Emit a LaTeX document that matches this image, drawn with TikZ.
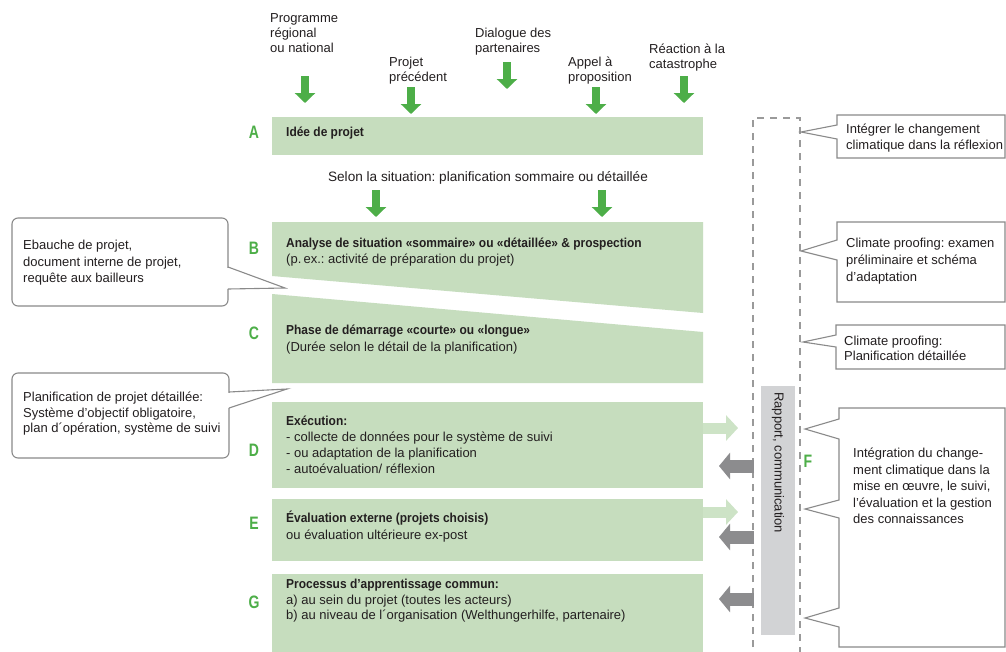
\documentclass[tikz,border=0pt]{standalone}
\usepackage{fontspec}
\setmainfont{Liberation Sans}[BoldFeatures={FakeStretch=0.92}]
\newfontfamily\lblfont{Liberation Sans}[BoldFeatures={FakeStretch=0.78}]
\usetikzlibrary{arrows.meta}
\definecolor{boxgreen}{HTML}{C6DDBE}
\definecolor{mygreen}{HTML}{4DAE48}
\definecolor{lightarr}{HTML}{CDE3C6}
\definecolor{darkarr}{HTML}{8C8C8E}
\definecolor{barfill}{HTML}{D2D3D5}
\definecolor{outl}{HTML}{8A8A8A}
\definecolor{dashcol}{HTML}{9A9A9A}
\definecolor{ink}{HTML}{231F20}
\frenchspacing
\tikzset{
  txt/.style={inner sep=0pt, anchor=base west, align=left, text=ink, font=\fontsize{13}{#1}\selectfont},
  txt/.default=16,
  lbl/.style={inner sep=0pt, anchor=center, text=mygreen, font=\lblfont\bfseries\fontsize{18}{18}\selectfont},
  phase/.style={fill=boxgreen, draw=none},
  garr/.style={draw=mygreen, line width=8pt, -{Triangle[width=20pt,length=10pt]}},
  larr/.style={draw=lightarr, line width=11pt, -{Triangle[width=25pt,length=12pt]}},
  darr/.style={draw=darkarr, line width=13pt, -{Triangle[width=26pt,length=11pt]}},
  callout/.style={draw=outl, line width=1.1pt, fill=white, line join=miter},
}
\begin{document}
\begin{tikzpicture}[x=1pt,y=-1pt]
\useasboundingbox (0,0) rectangle (1006,651);
\fill[white] (0,0) rectangle (1006,651);

% top source labels (anchor = baseline of last line)
\node[txt=15] (t1) at (270,52.5) {Programme\\régional\\ou national};
\node[txt=14.5] (t2) at (389,81) {Projet\\précédent};
\node[txt=15] (t3) at (475,52.5) {Dialogue des\\partenaires};
\node[txt=14.5] (t4) at (568,81) {Appel à\\proposition};
\node[txt=15] (t5) at (649,68.5) {Réaction à la\\catastrophe};

% top arrows
\coordinate (a1s) at (305,76);  \coordinate (a1e) at (305,103);
\coordinate (a2s) at (411,87);  \coordinate (a2e) at (411,114);
\coordinate (a3s) at (507,62);  \coordinate (a3e) at (507,89);
\coordinate (a4s) at (596,87);  \coordinate (a4e) at (596,114);
\coordinate (a5s) at (684,76);  \coordinate (a5e) at (684,103);
\foreach \i in {1,...,5} \draw[garr] (a\i s) -- (a\i e);

% phase boxes
\fill[phase] (272,117) rectangle (703,155);
\fill[phase] (272,222) -- (703,222) -- (703,313) -- (272,276) -- cycle;
\fill[phase] (272,294) -- (703,332) -- (703,383) -- (272,383) -- cycle;
\fill[phase] (272,402) rectangle (703,488);
\fill[phase] (272,499) rectangle (703,561);
\fill[phase] (272,574) rectangle (703,660);

% letters
\node[lbl] (lA) at (254,132) {A};
\node[lbl] (lB) at (254,248) {B};
\node[lbl] (lC) at (254,333) {C};
\node[lbl] (lD) at (254,450) {D};
\node[lbl] (lE) at (254,523) {E};
\node[lbl] (lG) at (254,602) {G};
\node[lbl] (lF) at (808,461) {F};

% box texts
\node[txt] (xA) at (286,136.5) {\bfseries Idée de projet};
\node[txt, anchor=base, font=\fontsize{13.6}{16}\selectfont] (sel) at (488,181.5) {Selon la situation: planification sommaire ou détaillée};
\node[txt] (xB) at (286,263.5) {\bfseries Analyse de situation «sommaire» ou «détaillée» \& prospection\\(p.\,ex.: activité de préparation du projet)};
\node[txt=17] (xC) at (286,351.5) {\bfseries Phase de démarrage «courte» ou «longue»\\(Durée selon le détail de la planification)};
\node[txt] (xD) at (286,473.5) {\bfseries Exécution:\\- collecte de données pour le système de suivi\\- ou adaptation de la planification\\- autoévaluation/ réflexion};
\node[txt=17] (xE) at (286,539.5) {\bfseries Évaluation externe (projets choisis)\\ou évaluation ultérieure ex-post};
\node[txt=15.5] (xG) at (286,619.5) {\bfseries Processus d’apprentissage commun:\\a) au sein du projet (toutes les acteurs)\\b) au niveau de l´organisation (Welthungerhilfe, partenaire)};

% middle arrows
\coordinate (m1s) at (376,190); \coordinate (m1e) at (376,217);
\coordinate (m2s) at (602,190); \coordinate (m2e) at (602,217);
\draw[garr] (m1s) -- (m1e);
\draw[garr] (m2s) -- (m2e);

% left callouts
\draw[callout, rounded corners=6pt] (12,218) rectangle (228,306);
\fill[white] (226,268) rectangle (231,288.5);
\draw[callout, fill=none] (228,267) -- (285,288) -- (228,289);
\node[txt=16.5] (cl1) at (23,282.5) {Ebauche de projet,\\document interne de projet,\\requête aux bailleurs};

\draw[callout, rounded corners=6pt] (12,373) rectangle (229,458);
\fill[white] (227,392.5) rectangle (232,407.5);
\draw[callout, fill=none] (229,392) -- (287,389) -- (229,408);
\node[txt=15.5] (cl2) at (23,432.5) {Planification de projet détaillée:\\Système d’objectif obligatoire,\\plan d´opération, système de suivi};

% dashed frame and bar
\draw[dashcol, line width=1.3pt, dash pattern=on 7pt off 6pt] (753,660) -- (753,118) -- (800,118) -- (800,660);
\fill[barfill] (761,386) rectangle (795,635);
\node[inner sep=0pt, rotate=-90, anchor=west, text=ink, font=\fontsize{13}{16}\selectfont] (bar) at (778,392) {Rapport, communication};

% side arrows
\coordinate (r1s) at (703,428); \coordinate (r1e) at (738,428);
\coordinate (r2s) at (703,512); \coordinate (r2e) at (738,512);
\draw[larr] (r1s) -- (r1e);
\draw[larr] (r2s) -- (r2e);
\coordinate (g1s) at (754,466); \coordinate (g1e) at (719,466);
\coordinate (g2s) at (754,537); \coordinate (g2e) at (719,537);
\coordinate (g3s) at (754,599); \coordinate (g3e) at (719,599);
\draw[darr] (g1s) -- (g1e);
\draw[darr] (g2s) -- (g2e);
\draw[darr] (g3s) -- (g3e);

% right callouts
\draw[callout] (837,125) -- (837,115) -- (1005,115) -- (1005,158) -- (837,158) -- (837,139) -- (801,132) -- cycle;
\node[txt] (cr1) at (846,149.5) {Intégrer le changement\\climatique dans la réflexion};
\draw[callout] (837,240) -- (837,222) -- (1005,222) -- (1005,302) -- (837,302) -- (837,260) -- (801,251) -- cycle;
\node[txt=17] (cr2) at (846,281.5) {Climate proofing: examen\\préliminaire et schéma\\d’adaptation};
\draw[callout] (836,335) -- (836,325) -- (1005,325) -- (1005,369) -- (836,369) -- (836,347) -- (803,342) -- cycle;
\node[txt=14.5] (cr3) at (844,360) {Climate proofing:\\Planification détaillée};
\draw[callout] (839,419) -- (839,408) -- (1005,408) -- (1005,647) -- (839,647) -- (839,627) -- (805,618) -- (839,608) -- (839,518) -- (805,509) -- (839,500) -- (839,439) -- (805,429) -- cycle;
\node[txt=16.5] (cr4) at (853,523.5) {Intégration du change-\\ment climatique dans la\\mise en œuvre, le suivi,\\l’évaluation et la gestion\\des connaissances};
\end{tikzpicture}
\end{document}
